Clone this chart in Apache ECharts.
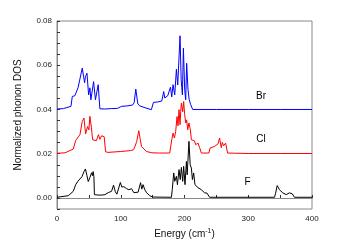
<!DOCTYPE html>
<html>
<head>
<meta charset="utf-8">
<script src="https://cdn.jsdelivr.net/npm/echarts@6/dist/echarts.min.js"></script>
<style>
html,body{margin:0;padding:0;background:#fff;}
#chart{width:338px;height:250px;}
</style>
</head>
<body>
<div id="chart"></div>
<script>
// Energies (cm^-1) and displayed (offset) DOS values
var brE = [0,10,21.9,24,28,33,39.6,43.3,44.6,47,49.6,51.6,53.2,57.4,60.3,64.6,67.3,75,85,95,101,110,118.5,121,123.6,126.8,130,138,148,151.3,158,164.3,167.4,169,173.7,178,180,182,184.7,187.3,189.4,193,194.8,196.7,198.3,200.3,201.9,203.4,205.5,207.4,209.7,212.8,250,300,350,400];
var brDOS = [0.0402,0.0404,0.0414,0.0459,0.0462,0.0498,0.0587,0.0521,0.0548,0.0564,0.0466,0.0498,0.0444,0.0526,0.0444,0.0512,0.0403,0.0402,0.0404,0.0405,0.0414,0.0416,0.0420,0.0430,0.0492,0.0425,0.0416,0.0408,0.0399,0.0432,0.0434,0.0438,0.0481,0.0452,0.0462,0.0501,0.0457,0.0512,0.0466,0.0582,0.0511,0.0733,0.0534,0.0466,0.0677,0.0489,0.0444,0.0609,0.0489,0.0444,0.0422,0.0400,0.0400,0.0400,0.0400,0.0400];

var clE = [0,12.5,25.5,29.3,31.3,36,39.6,42.3,44.9,48,50,51.6,54,55.9,58.4,61.8,65,67.3,70,74,76.2,80,100,115,120,122,125,128.3,130.7,132.5,140.4,148.7,161,176.8,178,180,182,184.2,186.2,188.3,189.8,191.4,193,194,195.1,197.2,198.7,200.3,201.9,203.4,205,207,209.2,210.8,213.3,215.5,217.5,221.1,223.8,226.4,238.3,240.2,242,247.3,250,252.7,255,257.7,259.3,261.3,264.5,267.6,300,350,400];
var clDOS = [0.0202,0.0204,0.0221,0.0260,0.0254,0.0286,0.0346,0.0361,0.0290,0.0323,0.0308,0.0369,0.0317,0.0263,0.0272,0.0259,0.0286,0.0265,0.0281,0.0277,0.0209,0.0206,0.0210,0.0214,0.0218,0.0230,0.0255,0.0304,0.0263,0.0233,0.0210,0.0204,0.0203,0.0203,0.0205,0.0263,0.0293,0.0271,0.0301,0.0368,0.0326,0.0399,0.0331,0.0390,0.0429,0.0390,0.0436,0.0376,0.0339,0.0353,0.0308,0.0339,0.0308,0.0263,0.0256,0.0259,0.0241,0.0248,0.0227,0.0203,0.0203,0.0226,0.0221,0.0233,0.0227,0.0245,0.0271,0.0227,0.0251,0.0236,0.0248,0.0203,0.0201,0.0201,0.0201];

var fE = [0,17.7,25.5,29.3,32.9,36,39.1,42.3,44.6,47,49,50,51.6,54.3,55.6,56.7,57.9,58.7,61,64.2,67.3,70.4,75.1,80.3,85.6,88.7,91.5,93.9,97,99.4,101.7,104.9,109.1,112.7,116.9,120.5,127.2,131.1,133,135,137.7,140.8,145.5,150.2,179.5,180.8,183.1,184.7,187.3,188.9,191.4,193.3,195.1,197.2,198.7,200.8,203,204.2,207,208.9,210.8,212.4,214.4,216.4,218.6,221.1,223.8,226.4,228.5,231.6,235.2,239.4,341.2,342.7,345.4,349,354.1,359.5,362.3,364.6,368.9,372.5,400];
var fDOS = [0.0003,0.0010,0.0030,0.0060,0.0076,0.0083,0.0096,0.0119,0.0131,0.0101,0.0074,0.0065,0.0092,0.0114,0.0101,0.0119,0.0096,0.0015,0.0010,0.0013,0.0010,0.0013,0.0015,0.0024,0.0030,0.0058,0.0028,0.0017,0.0024,0.0070,0.0049,0.0051,0.0042,0.0037,0.0042,0.0024,0.0026,0.0069,0.0040,0.0060,0.0037,0.0023,0.0010,0.0004,0.0003,0.0037,0.0113,0.0075,0.0098,0.0060,0.0128,0.0083,0.0138,0.0075,0.0143,0.0060,0.0165,0.0105,0.0256,0.0150,0.0135,0.0083,0.0113,0.0060,0.0068,0.0047,0.0042,0.0037,0.0031,0.0023,0.0022,0.0003,0.0003,0.0019,0.0056,0.0037,0.0023,0.0015,0.0022,0.0023,0.0019,0.0003,0.0003];

var seriesNames = ['Br', 'Cl', 'F'];
var labelE = [320, 320, 299];
var labelV = [0.0462, 0.0266, 0.0070];

var xTickLabels = ['0', '100', '200', '300', '400'];
var yTickLabels = ['0.00', '0.02', '0.04', '0.06', '0.08'];

function pairs(xs, ys) { return xs.map(function (x, i) { return [x, ys[i]]; }); }

var colors = ['#0000ff', '#ff0000', '#000000'];
var datasets = [pairs(brE, brDOS), pairs(clE, clDOS), pairs(fE, fDOS)];

var chart = echarts.init(document.getElementById('chart'), null, {renderer: 'canvas'});
var font = 'Liberation Sans, Arial, sans-serif';

var series = datasets.map(function (d, i) {
  return {
    name: seriesNames[i],
    type: 'line',
    data: d,
    showSymbol: false,
    symbol: 'none',
    sampling: null,
    lineStyle: {color: colors[i], width: 1},
    itemStyle: {color: colors[i]},
    z: 3 - i,
    animation: false,
    markPoint: {
      symbol: 'circle',
      symbolSize: 0,
      silent: true,
      label: {show: true, position: 'inside', formatter: seriesNames[i], color: '#000', fontSize: 10, fontFamily: font},
      data: [{coord: [labelE[i], labelV[i]]}]
    }
  };
});

chart.setOption({
  animation: false,
  backgroundColor: '#fff',
  grid: {left: 57, right: 26, top: 21, bottom: 41, show: true, borderColor: '#888', borderWidth: 1, backgroundColor: 'transparent'},
  xAxis: {
    type: 'value', min: 0, max: 400, interval: 50,
    name: 'Energy (cm{sup|-1})',
    nameLocation: 'middle', nameGap: 19,
    nameTextStyle: {
      color: '#111', fontSize: 10, fontFamily: font,
      rich: {sup: {fontSize: 7, verticalAlign: 'top', padding: [0, 0, 6, 0], color: '#111', fontFamily: font}}
    },
    axisLine: {show: true, lineStyle: {color: '#888'}},
    axisTick: {show: true, inside: true, length: 3, lineStyle: {color: '#333'}},
    axisLabel: {
      color: '#222', fontSize: 8, fontFamily: font, margin: 6,
      formatter: function (v) { var k = xTickLabels.indexOf(String(v)); return k >= 0 ? xTickLabels[k] : ''; }
    },
    splitLine: {show: false}
  },
  yAxis: {
    type: 'value', min: -0.005, max: 0.08, interval: 0.005,
    name: 'Normalized phonon DOS',
    nameLocation: 'middle', nameGap: 34,
    nameTextStyle: {color: '#111', fontSize: 10, fontFamily: font},
    axisLine: {show: true, lineStyle: {color: '#888'}},
    axisTick: {show: true, inside: true, length: 3, lineStyle: {color: '#333'}},
    axisLabel: {
      color: '#222', fontSize: 8, fontFamily: font, margin: 5,
      formatter: function (v) {
        var s = (Math.round(v * 1000) / 1000).toFixed(2);
        var ok = Math.abs(Math.round(v / 0.02) * 0.02 - v) < 1e-6;
        return ok && yTickLabels.indexOf(s) >= 0 ? s : '';
      }
    },
    splitLine: {show: false}
  },
  series: series
});
</script>
</body>
</html>
